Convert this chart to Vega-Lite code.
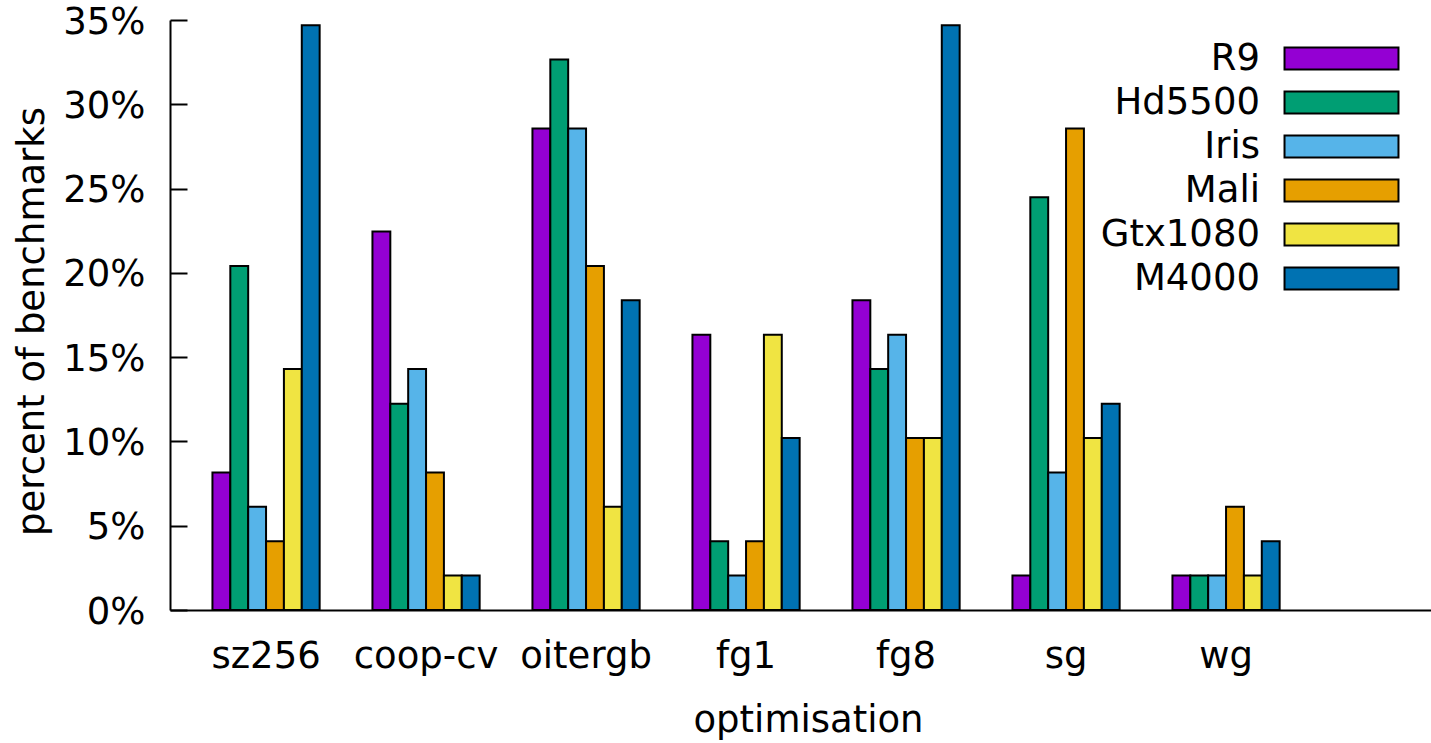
{
  "$schema": "https://vega.github.io/schema/vega-lite/v6.json",
  "width": 1276,
  "height": 590,
  "autosize": {"type": "none"},
  "padding": {"left": 170, "top": 20, "right": 0, "bottom": 133},
  "background": "white",
  "config": {"view": {"stroke": null}, "font": "DejaVu Sans"},
  "data": {
    "values": [
      {"optimisation": "sz256", "gpu": "R9", "percent": 8.16},
      {"optimisation": "sz256", "gpu": "Hd5500", "percent": 20.41},
      {"optimisation": "sz256", "gpu": "Iris", "percent": 6.12},
      {"optimisation": "sz256", "gpu": "Mali", "percent": 4.08},
      {"optimisation": "sz256", "gpu": "Gtx1080", "percent": 14.29},
      {"optimisation": "sz256", "gpu": "M4000", "percent": 34.69},
      {"optimisation": "coop-cv", "gpu": "R9", "percent": 22.45},
      {"optimisation": "coop-cv", "gpu": "Hd5500", "percent": 12.24},
      {"optimisation": "coop-cv", "gpu": "Iris", "percent": 14.29},
      {"optimisation": "coop-cv", "gpu": "Mali", "percent": 8.16},
      {"optimisation": "coop-cv", "gpu": "Gtx1080", "percent": 2.04},
      {"optimisation": "coop-cv", "gpu": "M4000", "percent": 2.04},
      {"optimisation": "oitergb", "gpu": "R9", "percent": 28.57},
      {"optimisation": "oitergb", "gpu": "Hd5500", "percent": 32.65},
      {"optimisation": "oitergb", "gpu": "Iris", "percent": 28.57},
      {"optimisation": "oitergb", "gpu": "Mali", "percent": 20.41},
      {"optimisation": "oitergb", "gpu": "Gtx1080", "percent": 6.12},
      {"optimisation": "oitergb", "gpu": "M4000", "percent": 18.37},
      {"optimisation": "fg1", "gpu": "R9", "percent": 16.33},
      {"optimisation": "fg1", "gpu": "Hd5500", "percent": 4.08},
      {"optimisation": "fg1", "gpu": "Iris", "percent": 2.04},
      {"optimisation": "fg1", "gpu": "Mali", "percent": 4.08},
      {"optimisation": "fg1", "gpu": "Gtx1080", "percent": 16.33},
      {"optimisation": "fg1", "gpu": "M4000", "percent": 10.2},
      {"optimisation": "fg8", "gpu": "R9", "percent": 18.37},
      {"optimisation": "fg8", "gpu": "Hd5500", "percent": 14.29},
      {"optimisation": "fg8", "gpu": "Iris", "percent": 16.33},
      {"optimisation": "fg8", "gpu": "Mali", "percent": 10.2},
      {"optimisation": "fg8", "gpu": "Gtx1080", "percent": 10.2},
      {"optimisation": "fg8", "gpu": "M4000", "percent": 34.69},
      {"optimisation": "sg", "gpu": "R9", "percent": 2.04},
      {"optimisation": "sg", "gpu": "Hd5500", "percent": 24.49},
      {"optimisation": "sg", "gpu": "Iris", "percent": 8.16},
      {"optimisation": "sg", "gpu": "Mali", "percent": 28.57},
      {"optimisation": "sg", "gpu": "Gtx1080", "percent": 10.2},
      {"optimisation": "sg", "gpu": "M4000", "percent": 12.24},
      {"optimisation": "wg", "gpu": "R9", "percent": 2.04},
      {"optimisation": "wg", "gpu": "Hd5500", "percent": 2.04},
      {"optimisation": "wg", "gpu": "Iris", "percent": 2.04},
      {"optimisation": "wg", "gpu": "Mali", "percent": 6.12},
      {"optimisation": "wg", "gpu": "Gtx1080", "percent": 2.04},
      {"optimisation": "wg", "gpu": "M4000", "percent": 4.08}
    ]
  },
  "mark": {"type": "bar", "stroke": "black", "strokeWidth": 2},
  "encoding": {
    "x": {
      "field": "optimisation",
      "type": "nominal",
      "sort": ["sz256", "coop-cv", "oitergb", "fg1", "fg8", "sg", "wg"],
      "scale": {"paddingInner": 0.33, "paddingOuter": 0.6525, "align": 0.2033},
      "axis": {
        "title": "optimisation",
        "labelAngle": 0,
        "ticks": false,
        "tickSize": 0,
        "labelPadding": 57,
        "labelBaseline": "alphabetic",
        "labelFontSize": 37,
        "labelColor": "black",
        "labelFont": "DejaVu Sans",
        "domainColor": "black",
        "domainWidth": 2,
        "titleFontSize": 37,
        "titleFontWeight": "normal",
        "titleColor": "black",
        "titleFont": "DejaVu Sans",
        "titleY": 121,
        "titleBaseline": "alphabetic",
        "grid": false
      }
    },
    "xOffset": {
      "field": "gpu",
      "type": "nominal",
      "sort": ["R9", "Hd5500", "Iris", "Mali", "Gtx1080", "M4000"],
      "scale": {"paddingInner": 0, "paddingOuter": 0}
    },
    "y": {
      "field": "percent",
      "type": "quantitative",
      "scale": {"domain": [0, 35], "nice": false},
      "axis": {
        "title": "percent of benchmarks",
        "values": [0, 5, 10, 15, 20, 25, 30, 35],
        "labelExpr": "datum.value + '%'",
        "grid": false,
        "tickSize": -17,
        "tickColor": "black",
        "tickWidth": 2,
        "domainColor": "black",
        "domainWidth": 2,
        "labelFontSize": 37,
        "labelColor": "black",
        "labelFont": "DejaVu Sans",
        "labelPadding": 42,
        "labelBaseline": "middle",
        "labelOffset": 2,
        "titleFontSize": 37,
        "titleFontWeight": "normal",
        "titleColor": "black",
        "titleFont": "DejaVu Sans",
        "titleX": -127,
        "titleY": 301,
        "titleBaseline": "alphabetic",
        "titleAlign": "center",
        "titleAngle": -90
      }
    },
    "color": {
      "field": "gpu",
      "type": "nominal",
      "sort": ["R9", "Hd5500", "Iris", "Mali", "Gtx1080", "M4000"],
      "scale": {
        "domain": ["R9", "Hd5500", "Iris", "Mali", "Gtx1080", "M4000"],
        "range": ["#9400d3", "#009e73", "#56b4e9", "#e69f00", "#f0e442", "#0072b2"]
      },
      "legend": {
        "title": null,
        "orient": "none",
        "legendX": 1153,
        "legendY": 20,
        "symbolType": "M-5.18,-1H5.18V1H-5.18Z",
        "symbolSize": 484,
        "symbolStrokeColor": "black",
        "symbolStrokeWidth": 2,
        "symbolOpacity": 1,
        "labelAlign": "right",
        "labelOffset": -100,
        "labelFontSize": 37,
        "labelColor": "black",
        "labelFont": "DejaVu Sans",
        "labelLimit": 0,
        "rowPadding": 6,
        "padding": 0
      }
    }
  }
}
